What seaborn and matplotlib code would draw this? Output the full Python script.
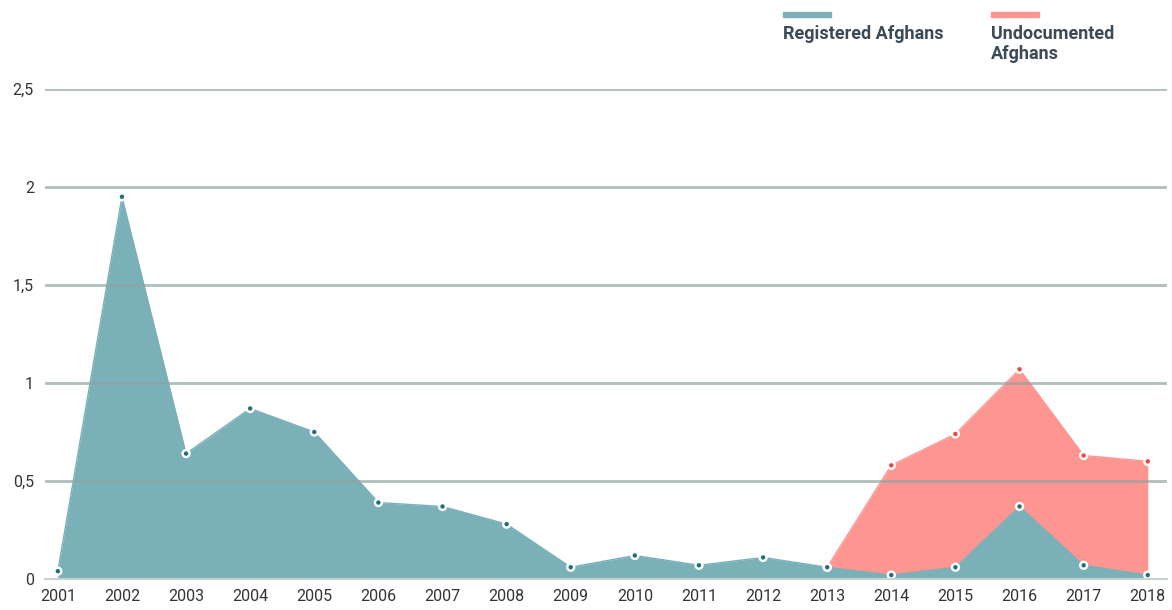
import numpy as np
import pandas as pd
import matplotlib
matplotlib.use("Agg")
import matplotlib.pyplot as plt
import seaborn as sns

# data
years = list(range(2001, 2019))
registered = [0.04, 1.95, 0.64, 0.87, 0.75, 0.39, 0.37, 0.28, 0.06, 0.12,
              0.07, 0.11, 0.06, 0.02, 0.06, 0.37, 0.07, 0.02]
undoc_years = list(range(2013, 2019))
undocumented = [0.06, 0.58, 0.74, 1.07, 0.63, 0.60]
ytick_vals = [0, 0.5, 1, 1.5, 2, 2.5]
ytick_labels = ["0", "0,5", "1", "1,5", "2", "2,5"]

teal_fill = "#7ab1b8"
teal_dark = "#1f6f78"
red_fill = "#fd9590"
red_dark = "#f2443e"

sns.set_style("white")
plt.rcParams['font.family'] = ['Roboto', 'DejaVu Sans']

reg = pd.DataFrame({"year": years, "value": registered})
und = pd.DataFrame({"year": undoc_years, "value": undocumented})

fig = plt.figure(figsize=(11.72, 6.10), dpi=100)
ax = fig.add_axes([45 / 1172, 31 / 610, 1122 / 1172, 490 / 610])

# undocumented behind, registered in front
ax.fill_between(und["year"], 0, und["value"], color=red_fill, lw=0, zorder=2)
sns.lineplot(data=und, x="year", y="value", color=red_fill, lw=1, ax=ax, zorder=2)
ax.fill_between(reg["year"], 0, reg["value"], color=teal_fill, lw=0, zorder=3)
sns.lineplot(data=reg, x="year", y="value", color=teal_fill, lw=1, ax=ax, zorder=3)

# point markers: white ring with coloured centre
sns.scatterplot(data=und, x="year", y="value", s=45, color="white", edgecolor="none",
                ax=ax, zorder=4)
sns.scatterplot(data=und, x="year", y="value", s=10, color=red_dark, edgecolor="none",
                ax=ax, zorder=5)
sns.scatterplot(data=reg, x="year", y="value", s=45, color="white", edgecolor="none",
                ax=ax, zorder=6)
sns.scatterplot(data=reg, x="year", y="value", s=10, color=teal_dark, edgecolor="none",
                ax=ax, zorder=7)

ax.set_xlim(2000.8, 2018.3)
ax.set_ylim(0, 2.5)
ax.set_yticks(ytick_vals)
ax.set_yticklabels(ytick_labels)
ax.set_xticks(years)
ax.set_xticklabels([str(y) for y in years])

# gridlines drawn on top, semi transparent
for v in ytick_vals[1:]:
    ax.axhline(v, color="#8fa3a3", lw=2, alpha=0.7, zorder=8)
ax.grid(False)

for s in ["top", "right", "left"]:
    ax.spines[s].set_visible(False)
ax.spines["bottom"].set_color("#c9d1d1")
ax.spines["bottom"].set_linewidth(1.5)
ax.spines["bottom"].set_zorder(9)

ax.tick_params(axis="x", length=4, width=1, color="#c9d1d1", labelsize=11.5,
               labelcolor="#333333", pad=3)
ax.tick_params(axis="y", length=0, labelsize=11.5, labelcolor="#333333", pad=8)
ax.set_xlabel("")
ax.set_ylabel("")
if ax.get_legend():
    ax.get_legend().remove()

# legend at the top
legend_items = [("Registered Afghans", teal_fill, 783), ("Undocumented\nAfghans", red_fill, 991)]
for label, col, xpx in legend_items:
    fig.patches.append(plt.Rectangle((xpx / 1172, 1 - 17 / 610), 48 / 1172, 5 / 610,
                                     transform=fig.transFigure, color=col, figure=fig))
    fig.text(xpx / 1172, 1 - 25 / 610, label, ha="left", va="top", fontsize=13,
             fontweight="bold", color="#3b4a56", linespacing=1.15)

fig.savefig("out.png", dpi=100)
